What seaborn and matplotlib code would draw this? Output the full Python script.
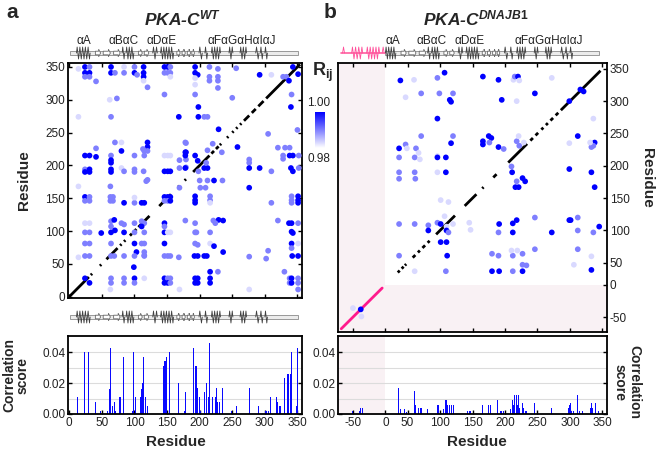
import numpy as np
import pandas as pd
import seaborn as sns
import matplotlib.pyplot as plt
from matplotlib.colors import LinearSegmentedColormap, Normalize
from matplotlib.patches import Rectangle, FancyArrow
import matplotlib.cm as cm

sns.set_theme(style='white')
plt.rcParams['font.family'] = ['Liberation Sans', 'DejaVu Sans']
plt.rcParams['mathtext.fontset'] = 'custom'
plt.rcParams['mathtext.it'] = 'Liberation Sans:italic:bold'
plt.rcParams['mathtext.rm'] = 'Liberation Sans:bold'
plt.rcParams['mathtext.bf'] = 'Liberation Sans:bold'

# intensity codes: dark / medium / light
R_LEVEL = {'d': 1.000, 'm': 0.990, 'l': 0.983}

# ---- PKA-C WT correlation map: (residue x, residue y, level) ----
wt_dots_upper = [
    (14, 347, 'l'), (24, 350, 'd'), (31, 350, 'm'), (24, 341, 'd'), (31, 341, 'd'), (24, 335, 'm'),
    (31, 335, 'm'), (41, 328, 'm'), (64, 350, 'd'), (64, 341, 'd'), (70, 341, 'm'), (84, 341, 'm'),
    (84, 350, 'l'), (100, 350, 'm'), (100, 341, 'd'), (104, 338, 'm'), (114, 350, 'd'), (114, 341, 'd'),
    (114, 335, 'd'), (114, 329, 'l'), (120, 319, 'm'), (146, 350, 'd'), (151, 350, 'd'), (155, 350, 'm'),
    (146, 341, 'm'), (151, 341, 'm'), (155, 341, 'm'), (155, 335, 'l'), (146, 308, 'm'), (62, 300, 'l'),
    (73, 302, 'm'), (14, 274, 'l'), (64, 274, 'm'), (168, 274, 'd'), (193, 350, 'd'), (193, 341, 'd'),
    (197, 338, 'd'), (193, 333, 'l'), (193, 323, 'l'), (215, 350, 'm'), (215, 335, 'm'), (215, 329, 'm'),
    (228, 347, 'm'), (228, 335, 'm'), (228, 329, 'm'), (228, 318, 'm'), (256, 348, 'm'), (250, 303, 'm'),
    (193, 308, 'm'), (198, 289, 'd'), (198, 274, 'd'), (207, 274, 'm'), (212, 274, 'm'), (292, 338, 'd'),
    (310, 338, 'l'), (328, 335, 'm'), (333, 335, 'm'), (337, 329, 'd'), (341, 308, 'm'), (340, 289, 'd'),
    (343, 350, 'd'), (351, 339, 'd'), (350, 254, 'm'),
]
wt_dots_middle = [
    (229, 255, 'd'), (305, 248, 'm'), (179, 234, 'm'), (179, 220, 'd'), (179, 209, 'm'), (179, 197, 'm'),
    (193, 215, 'd'), (197, 207, 'd'), (198, 191, 'm'), (207, 196, 'd'), (212, 196, 'd'), (212, 223, 'm'),
    (220, 233, 'm'), (234, 220, 'm'), (210, 204, 'm'), (258, 228, 'd'), (276, 209, 'm'), (276, 204, 'm'),
    (276, 196, 'd'), (292, 196, 'd'), (310, 191, 'm'), (320, 227, 'm'), (331, 227, 'm'), (338, 227, 'm'),
    (328, 215, 'm'), (338, 215, 'd'), (343, 215, 'd'), (352, 215, 'm'), (328, 210, 'm'), (340, 196, 'd'),
    (343, 191, 'd'), (352, 196, 'm'), (200, 177, 'm'), (212, 177, 'm'), (222, 177, 'd'), (235, 177, 'm'),
    (70, 235, 'm'), (80, 235, 'l'), (120, 235, 'd'), (120, 228, 'd'), (41, 226, 'm'), (80, 222, 'd'),
    (113, 225, 'm'), (115, 222, 'm'), (120, 222, 'm'), (178, 235, 'm'), (178, 220, 'd'), (24, 215, 'd'),
    (31, 215, 'd'), (41, 213, 'd'), (64, 215, 'm'), (64, 208, 'd'), (64, 204, 'd'), (100, 215, 'm'),
    (115, 215, 'm'), (146, 215, 'l'), (151, 215, 'l'), (155, 215, 'l'), (169, 208, 'm'), (178, 215, 'd'),
    (24, 194, 'm'), (24, 190, 'd'), (31, 194, 'd'), (31, 190, 'd'), (64, 194, 'd'), (64, 190, 'd'),
    (80, 196, 'l'), (84, 191, 'm'), (100, 194, 'm'), (100, 190, 'm'), (114, 191, 'm'), (146, 191, 'd'),
    (151, 191, 'd'), (155, 191, 'd'), (169, 196, 'm'), (178, 196, 'd'), (120, 178, 'm'),
]
wt_dots_lower = [
    (14, 168, 'l'), (63, 168, 'm'), (118, 176, 'm'), (201, 166, 'm'), (209, 166, 'm'), (276, 166, 'd'),
    (169, 166, 'm'), (24, 152, 'd'), (24, 146, 'm'), (31, 152, 'm'), (31, 146, 'm'), (63, 152, 'm'),
    (63, 146, 'm'), (67, 152, 'm'), (67, 146, 'm'), (84, 143, 'd'), (100, 143, 'm'), (100, 151, 'l'),
    (111, 143, 'd'), (115, 143, 'd'), (146, 152, 'd'), (151, 152, 'd'), (155, 152, 'd'), (146, 146, 'm'),
    (151, 146, 'm'), (155, 146, 'd'), (193, 153, 'd'), (193, 147, 'd'), (193, 143, 'd'), (216, 153, 'm'),
    (216, 147, 'm'), (216, 143, 'l'), (310, 143, 'm'), (341, 153, 'm'), (341, 147, 'm'), (341, 143, 'm'),
    (351, 153, 'd'), (351, 147, 'd'), (351, 143, 'd'), (24, 112, 'l'), (31, 112, 'l'), (64, 115, 'm'),
    (69, 117, 'd'), (64, 107, 'm'), (80, 112, 'm'), (84, 110, 'm'), (100, 112, 'm'), (111, 115, 'm'),
    (115, 112, 'm'), (111, 107, 'd'), (146, 112, 'd'), (146, 107, 'm'), (178, 116, 'm'), (193, 112, 'm'),
    (221, 116, 'm'), (229, 117, 'd'), (236, 116, 'd'), (224, 112, 'm'), (320, 116, 'm'), (337, 112, 'd'),
    (341, 112, 'd'), (351, 112, 'm'), (24, 98, 'm'), (31, 98, 'm'), (49, 97, 'd'), (64, 98, 'd'),
    (70, 101, 'd'), (84, 98, 'd'), (100, 98, 'm'), (115, 98, 'm'), (146, 98, 'd'), (151, 98, 'l'),
    (155, 98, 'l'), (193, 98, 'm'), (195, 98, 'm'), (216, 98, 'm'), (341, 99, 'd'), (343, 97, 'd'),
    (24, 81, 'm'), (31, 81, 'm'), (64, 81, 'm'), (100, 81, 'd'), (111, 81, 'm'), (115, 81, 'm'),
    (146, 81, 'd'), (193, 81, 'm'), (197, 79, 'm'), (216, 81, 'l'), (222, 77, 'd'), (341, 81, 'd'),
    (341, 74, 'm'), (351, 81, 'l'), (103, 68, 'd'), (115, 68, 'm'), (115, 63, 'm'), (236, 68, 'd'),
    (305, 70, 'm'), (14, 60, 'l'), (24, 62, 'm'), (31, 62, 'm'), (64, 62, 'm'), (69, 62, 'm'),
    (84, 62, 'm'), (100, 62, 'm'), (115, 62, 'm'), (146, 62, 'm'), (151, 62, 'm'), (155, 62, 'm'),
    (168, 60, 'm'), (192, 62, 'd'), (197, 62, 'd'), (207, 62, 'd'), (211, 62, 'd'), (276, 61, 'm'),
    (302, 58, 'm'), (342, 62, 'd'), (351, 62, 'd'), (99, 45, 'd'), (216, 38, 'd'), (228, 38, 'm'),
    (330, 38, 'm'), (24, 28, 'd'), (31, 21, 'd'), (64, 28, 'm'), (64, 21, 'm'), (84, 28, 'm'),
    (84, 21, 'm'), (100, 28, 'd'), (100, 21, 'm'), (115, 28, 'l'), (146, 28, 'd'), (151, 28, 'm'),
    (155, 28, 'm'), (146, 21, 'd'), (151, 21, 'd'), (155, 21, 'm'), (193, 28, 'd'), (197, 28, 'd'),
    (193, 21, 'd'), (197, 21, 'd'), (216, 28, 'd'), (216, 21, 'd'), (338, 28, 'm'), (341, 28, 'd'),
    (351, 28, 'm'), (338, 21, 'm'), (341, 21, 'd'), (351, 21, 'm'), (63, 11, 'l'), (169, 11, 'l'),
    (276, 11, 'l'), (351, 11, 'm'),
]
# residues on the diagonal (self correlation)
wt_diag = [(0, 30), (33, 35), (47, 49), (57, 74), (78, 80), (84, 86), (93, 96), (99, 103), (106, 123),
           (138, 156), (167, 169), (177, 179), (190, 215), (218, 222), (225, 229), (231, 233), (242, 244),
           (250, 252), (256, 258), (262, 264), (268, 276), (280, 286), (290, 298), (302, 354)]

# ---- PKA-C DNAJB1 correlation map (PKA residue numbers; <=0 is DNAJB1) ----
dj_dots_upper = [
    (39, 332, 'd'), (60, 333, 'l'), (96, 336, 'm'), (107, 344, 'd'), (166, 338, 'd'), (190, 333, 'd'),
    (213, 333, 'l'), (215, 338, 'm'), (220, 338, 'd'), (222, 332, 'l'), (272, 336, 'l'), (47, 306, 'l'),
    (71, 312, 'm'), (99, 312, 'm'), (120, 312, 'm'), (115, 302, 'd'), (117, 299, 'd'), (195, 302, 'd'),
    (218, 300, 'l'), (246, 312, 'd'), (299, 300, 'd'), (316, 318, 'd'), (321, 315, 'd'), (336, 273, 'l'),
    (96, 273, 'd'), (71, 246, 'm'), (120, 246, 'm'), (312, 246, 'd'),
]
dj_dots_middle = [
    (37, 227, 'd'), (47, 233, 'm'), (49, 227, 'l'), (63, 227, 'm'), (67, 220, 'l'), (37, 213, 'm'),
    (61, 213, 'm'), (69, 210, 'l'), (96, 215, 'l'), (96, 213, 'd'), (109, 213, 'd'), (117, 235, 'd'),
    (166, 238, 'd'), (166, 233, 'd'), (175, 246, 'd'), (179, 243, 'd'), (176, 236, 'm'), (190, 229, 'd'),
    (198, 226, 'm'), (218, 238, 'm'), (221, 246, 'l'), (222, 231, 'm'), (229, 236, 'l'), (299, 235, 'l'),
    (333, 229, 'm'), (338, 236, 'd'), (336, 231, 'm'), (331, 236, 'l'), (37, 190, 'm'), (61, 190, 'm'),
    (37, 180, 'm'), (62, 180, 'm'), (96, 190, 'l'), (109, 190, 'd'), (210, 199, 'm'), (211, 190, 'd'),
    (218, 176, 'm'), (216, 167, 'd'), (221, 167, 'd'), (227, 181, 'd'), (231, 176, 'd'), (299, 195, 'd'),
    (333, 190, 'd'), (338, 167, 'd'),
]
dj_dots_lower = [
    (101, 147, 'l'), (113, 144, 'l'), (37, 110, 'm'), (61, 110, 'm'), (82, 108, 'm'), (82, 100, 'd'),
    (96, 112, 'm'), (101, 110, 'd'), (107, 122, 'l'), (110, 106, 'l'), (110, 100, 'd'), (113, 97, 'm'),
    (120, 110, 'l'), (145, 112, 'l'), (147, 101, 'l'), (101, 82, 'd'), (110, 82, 'd'), (111, 61, 'd'),
    (37, 61, 'm'), (61, 37, 'l'), (109, 37, 'm'), (180, 64, 'm'), (190, 61, 'm'), (212, 61, 'm'),
    (210, 69, 'l'), (219, 69, 'l'), (227, 64, 'm'), (227, 47, 'm'), (233, 46, 'm'), (180, 37, 'd'),
    (191, 37, 'd'), (212, 37, 'm'), (227, 37, 'd'), (190, 97, 'm'), (191, 110, 'd'), (212, 111, 'd'),
    (212, 97, 'd'), (218, 116, 'd'), (246, 71, 'm'), (246, 120, 'm'), (272, 97, 'd'), (299, 116, 'd'),
    (301, 116, 'd'), (312, 120, 'm'), (312, 100, 'm'), (312, 71, 'm'), (336, 97, 'm'), (345, 106, 'd'),
    (306, 47, 'l'), (333, 60, 'l'), (333, 39, 'd'),
    (-50, -36, 'l'), (-38, -38, 'd'), (-37, -49, 'l'),
]
dj_diag = [(35, 38), (41, 44), (46, 48), (58, 62), (66, 69), (73, 77), (81, 84), (94, 123), (138, 156),
           (165, 167), (182, 187), (205, 234), (239, 243), (247, 251), (256, 259), (263, 266), (270, 274),
           (278, 282), (286, 347)]
dj_pink_diag = (-68, -5)

# ---- correlation scores ----
wt_bar_res = [13, 23, 30, 40, 48, 59, 61, 63, 67, 69, 71, 77, 79, 83, 97, 99, 102, 109, 111, 112,
              114, 117, 120, 144, 146, 147, 149, 153, 168, 176, 178, 191, 193, 195, 197, 199, 201, 207,
              211, 213, 215, 220, 222, 224, 226, 228, 230, 235, 249, 256, 276, 290, 301, 303, 305, 309,
              318, 320, 322, 324, 330, 335, 337, 339, 341, 348, 350]
wt_bar_val = [0.011, 0.040, 0.040, 0.008, 0.002, 0.002, 0.016, 0.043, 0.005, 0.008, 0.002, 0.011,
              0.011, 0.037, 0.002, 0.040, 0.011, 0.011, 0.016, 0.020, 0.037, 0.011, 0.005, 0.031,
              0.034, 0.034, 0.037, 0.040, 0.020, 0.002, 0.014, 0.043, 0.031, 0.031, 0.017, 0.011,
              0.002, 0.014, 0.020, 0.011, 0.046, 0.011, 0.011, 0.011, 0.017, 0.008, 0.008, 0.017,
              0.002, 0.005, 0.017, 0.005, 0.002, 0.002, 0.002, 0.011, 0.011, 0.008, 0.005, 0.005,
              0.023, 0.026, 0.026, 0.026, 0.040, 0.005, 0.043]
dj_bar_res = [-50, -40, -38, -36, 36, 39, 45, 48, 60, 63, 67, 70, 72, 81, 96, 98, 100, 106, 108, 110,
              112, 115, 118, 121, 143, 145, 147, 165, 175, 177, 180, 189, 193, 195, 197, 209, 211, 213,
              215, 217, 219, 221, 223, 227, 229, 231, 233, 245, 272, 297, 299, 301, 303, 306, 311, 314,
              317, 319, 331, 333, 335, 337, 339, 344]
dj_bar_val = [0.002, 0.002, 0.004, 0.004, 0.017, 0.003, 0.003, 0.001, 0.015, 0.006, 0.004, 0.004,
              0.004, 0.003, 0.006, 0.006, 0.006, 0.003, 0.009, 0.009, 0.006, 0.006, 0.006, 0.006,
              0.002, 0.002, 0.002, 0.006, 0.006, 0.006, 0.006, 0.009, 0.002, 0.002, 0.002, 0.003,
              0.009, 0.006, 0.012, 0.012, 0.006, 0.012, 0.004, 0.007, 0.004, 0.002, 0.002, 0.007,
              0.004, 0.004, 0.006, 0.007, 0.002, 0.002, 0.012, 0.002, 0.002, 0.002, 0.004, 0.007,
              0.004, 0.007, 0.007, 0.002]

# ---- secondary structure (residues) ----
ss_helices = [(11, 32), (81, 85), (87, 99), (128, 135), (140, 160), (199, 204), (208, 212), (218, 232),
              (245, 251), (262, 272), (286, 291), (293, 297), (300, 304)]
ss_strands = [(40, 48), (52, 63), (68, 78), (106, 112), (115, 122), (165, 170), (173, 178), (181, 186),
              (188, 192)]
dnajb1_helices = [(-66, -63), (-52, -35), (-29, -9), (-5, -2)]
ss_labels = ['αA', 'αBαC', 'αDαE', 'αFαGαHαIαJ']
wt_label_pos = [22, 83, 142, 265]
dj_label_pos = [27, 87, 146, 268]

axis_ticks = [-50, 0, 50, 100, 150, 200, 250, 300, 350]


def to_b(r):
    # DNAJB1 residues keep their numbers, PKA part starts right after 0
    return r if r <= 0 else r - 16


W, H = 656, 453


def box(x0, y0, x1, y1):
    return [x0 / W, 1 - y1 / H, (x1 - x0) / W, (y1 - y0) / H]


cmap = LinearSegmentedColormap.from_list('rij', ['#ffffff', '#0000ff'])
norm = Normalize(0.98, 1.0)
PINK_BG = '#f9f1f4'
BAR_BLUE = '#0a0aff'
DOT_SIZE = 17


def frame(ax):
    for s in ax.spines.values():
        s.set_visible(True)
        s.set_color('black')
        s.set_linewidth(1.3)
    ax.tick_params(direction='in', length=3, width=1, colors='black',
                   labelcolor='#222222', labelsize=8.5, pad=2)


def dots_frame(parts, mapper=lambda r: r):
    rows = [d for p in parts for d in p]
    df = pd.DataFrame(rows, columns=['x', 'y', 'lvl'])
    df['x'] = df['x'].map(mapper)
    df['y'] = df['y'].map(mapper)
    df['R'] = df['lvl'].map(R_LEVEL)
    return df


def zigzag(ax, a, b, color, step):
    n = max(1, int(round((b - a) / step)))
    xs = np.linspace(a, b, 2 * n + 1)
    ys = np.zeros_like(xs)
    ys[1::2] = np.where(np.arange(n) % 2 == 0, 0.75, -0.75)
    ax.plot(xs, ys, color=color, lw=0.6, zorder=3)


def cartoon(rect, xlim, mapper, tube, labels=None, label_pos=None, clip=None, pink=None):
    ax = fig.add_axes(box(*rect))
    ax.set_xlim(xlim)
    ax.set_ylim(-1, 1)
    ax.axis('off')
    ax.add_patch(Rectangle((tube[0], -0.2), tube[1] - tube[0], 0.4, fc='#ececec',
                           ec='#8a8a8a', lw=0.6, zorder=1))
    if pink is not None:
        ax.plot([xlim[0] + 5, 0], [0, 0], color='#ff5fa0', lw=1.2, zorder=2)
        for a, b in pink:
            zigzag(ax, a, b, '#ff4f9a', 2.3)
    for a, b in ss_strands:
        if clip is not None and a < clip:
            continue
        a, b = mapper(a), mapper(b)
        ax.add_patch(FancyArrow(a, 0, b - a, 0, width=0.45, head_width=0.95,
                                head_length=min(3.0, (b - a) * 0.45), length_includes_head=True,
                                fc='white', ec='#6a6a6a', lw=0.6, zorder=2))
    for a, b in ss_helices:
        if clip is not None:
            if b < clip:
                continue
            a = max(a, clip)
        zigzag(ax, mapper(a), mapper(b), '#404040', 2.1)
    if labels:
        for lab, p in zip(labels, label_pos):
            ax.text(mapper(p), 1.45, lab, ha='center', va='center', fontsize=8.5,
                    color='#222222', clip_on=False)
    return ax


fig = plt.figure(figsize=(6.56, 4.53), dpi=100)

# ================= panel a : correlation map =================
ax_a = fig.add_axes(box(68, 63, 302, 298))
frame(ax_a)
ax_a.set_xlim(-2, 357)
ax_a.set_ylim(-2, 356)
for a, b in wt_diag:
    ax_a.plot([a, b], [a, b], color='black', lw=2.0, solid_capstyle='butt', zorder=2)
df_a = dots_frame([wt_dots_upper, wt_dots_middle, wt_dots_lower])
sns.scatterplot(data=df_a, x='x', y='y', hue='R', palette=cmap, hue_norm=norm, s=DOT_SIZE,
                linewidth=0, legend=False, ax=ax_a, zorder=3)
ax_a.set_xticks(range(0, 351, 50))
ax_a.set_yticks(range(0, 351, 50))
ax_a.tick_params(top=True, right=True, bottom=True, left=True, labelbottom=False)
ax_a.set_xlabel('')
ax_a.set_ylabel('')

# ================= panel a : correlation score =================
ax_ba = fig.add_axes(box(68, 336, 302, 414))
frame(ax_ba)
ax_ba.set_axisbelow(True)
ax_ba.bar(wt_bar_res, wt_bar_val, width=1.5, color=BAR_BLUE, linewidth=0)
ax_ba.set_xlim(-2, 357)
ax_ba.set_ylim(0, 0.0505)
ax_ba.set_yticks([0, 0.02, 0.04])
ax_ba.set_yticklabels(['0.00', '0.02', '0.04'])
ax_ba.set_yticks([0.01, 0.03], minor=True)
ax_ba.yaxis.grid(True, which='both', color='#dcdcdc', lw=0.8)
ax_ba.set_xticks(range(0, 351, 50))
ax_ba.tick_params(right=True, left=True, bottom=True)
ax_ba.tick_params(which='minor', length=0)

# ================= panel b : correlation map =================
ax_b = fig.add_axes(box(338, 63, 607, 332))
frame(ax_b)
ax_b.set_xlim(-73, 341)
ax_b.set_ylim(-73, 343)
ax_b.add_patch(Rectangle((-73, -73), 73, 416, fc=PINK_BG, ec='none', zorder=0))
ax_b.add_patch(Rectangle((0, -73), 341, 73, fc=PINK_BG, ec='none', zorder=0))
for a, b in dj_diag:
    ax_b.plot([to_b(a), to_b(b)], [to_b(a), to_b(b)], color='black', lw=2.0,
              solid_capstyle='butt', zorder=2)
ax_b.plot(dj_pink_diag, dj_pink_diag, color='#ff1a8c', lw=2.0, zorder=2)
df_b = dots_frame([dj_dots_upper, dj_dots_middle, dj_dots_lower], to_b)
sns.scatterplot(data=df_b, x='x', y='y', hue='R', palette=cmap, hue_norm=norm, s=DOT_SIZE,
                linewidth=0, legend=False, ax=ax_b, zorder=3)
b_pos = [to_b(t) for t in axis_ticks]
ax_b.set_xticks(b_pos)
ax_b.set_yticks(b_pos)
ax_b.set_yticklabels([str(t) for t in axis_ticks])
ax_b.yaxis.tick_right()
ax_b.tick_params(left=False, right=True, top=True, bottom=True, labelright=True,
                 labelleft=False, labelbottom=False)
ax_b.set_xlabel('')
ax_b.set_ylabel('')

# ================= panel b : correlation score =================
ax_bb = fig.add_axes(box(338, 336, 607, 414))
frame(ax_bb)
ax_bb.set_axisbelow(True)
ax_bb.add_patch(Rectangle((-73, 0), 73, 0.06, fc=PINK_BG, ec='none', zorder=0))
ax_bb.bar([to_b(r) for r in dj_bar_res], dj_bar_val, width=1.5, color=BAR_BLUE, linewidth=0,
          zorder=2)
ax_bb.set_xlim(-73, 341)
ax_bb.set_ylim(0, 0.0505)
ax_bb.set_yticks([0, 0.02, 0.04])
ax_bb.set_yticklabels(['0.00', '0.02', '0.04'])
ax_bb.set_yticks([0.01, 0.03], minor=True)
ax_bb.yaxis.grid(True, which='both', color='#dcdcdc', lw=0.8, zorder=1)
ax_bb.set_xticks(b_pos)
ax_bb.set_xticklabels([str(t) for t in axis_ticks])
ax_bb.tick_params(right=True, left=True, bottom=True)
ax_bb.tick_params(which='minor', length=0)

# ================= colour bar =================
cax = fig.add_axes(box(315, 112, 325, 148))
cb = fig.colorbar(cm.ScalarMappable(norm=norm, cmap=cmap), cax=cax)
cb.set_ticks([])
cb.outline.set_visible(False)
fig.text(312 / W, 1 - 76 / H, 'R$_{\\mathrm{ij}}$', ha='left', va='baseline', fontsize=13,
         fontweight='bold')
fig.text(319 / W, 1 - 103 / H, '1.00', ha='center', va='center', fontsize=8.5, color='#222222')
fig.text(319 / W, 1 - 159 / H, '0.98', ha='center', va='center', fontsize=8.5, color='#222222')

# ================= secondary structure cartoons =================
cartoon((68, 45, 302, 61), (-2, 357), lambda r: r, (1, 351), ss_labels, wt_label_pos)
cartoon((68, 309, 302, 325), (-2, 357), lambda r: r, (1, 351))
cartoon((338, 45, 607, 61), (-73, 341), to_b, (0, 329), ss_labels, dj_label_pos, clip=16,
        pink=dnajb1_helices)

# ================= labels =================
fig.text(6 / W, 1 - 13 / H, 'a', ha='left', va='center', fontsize=15, fontweight='bold')
fig.text(324 / W, 1 - 13 / H, 'b', ha='left', va='center', fontsize=15, fontweight='bold')
fig.text(182 / W, 1 - 25 / H, 'PKA-C$^{WT}$', ha='center', va='baseline', fontsize=12.5,
         fontweight='bold', fontstyle='italic')
fig.text(476 / W, 1 - 25 / H, 'PKA-C$^{DNAJB1}$', ha='center', va='baseline', fontsize=12.5,
         fontweight='bold', fontstyle='italic')
fig.text(24 / W, 1 - 180 / H, 'Residue', rotation=90, ha='center', va='center', fontsize=11,
         fontweight='bold')
fig.text(16 / W, 1 - 375 / H, 'Correlation\nscore', rotation=90, ha='center', va='center',
         fontsize=10, fontweight='bold', linespacing=1.0)
fig.text(176 / W, 1 - 442 / H, 'Residue', ha='center', va='center', fontsize=11,
         fontweight='bold')
fig.text(477 / W, 1 - 442 / H, 'Residue', ha='center', va='center', fontsize=11,
         fontweight='bold')
fig.text(647 / W, 1 - 178 / H, 'Residue', rotation=270, ha='center', va='center', fontsize=11,
         fontweight='bold')
fig.text(627 / W, 1 - 382 / H, 'Correlation\nscore', rotation=270, ha='center', va='center',
         fontsize=10, fontweight='bold', linespacing=1.0)

fig.savefig('out.png', dpi=100)
